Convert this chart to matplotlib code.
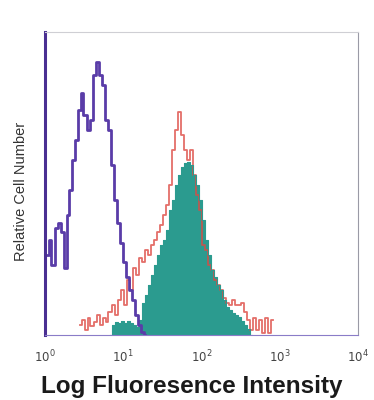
import numpy as np
import matplotlib
matplotlib.use("Agg")
import matplotlib.pyplot as plt

plt.rcParams['font.family'] = ['Liberation Sans', 'DejaVu Sans']

# log10 fluorescence channel positions and counts
iso_log = [0.01, 0.03, 0.06, 0.10, 0.15, 0.19, 0.23, 0.26, 0.29, 0.32, 0.36, 0.40,
           0.44, 0.47, 0.51, 0.55, 0.59, 0.63, 0.67, 0.71, 0.74, 0.78, 0.82,
           0.86, 0.90, 0.94, 0.97, 1.01, 1.05, 1.09, 1.13, 1.17, 1.21, 1.24, 1.28]
iso_cnt = [80, 80, 95, 70, 107, 112, 103, 67, 120, 145, 175, 195,
           225, 242, 220, 205, 215, 260, 273, 260, 250, 215, 205,
           170, 135, 112, 92, 73, 58, 45, 35, 20, 10, 3, 0]

red_log = [0.45, 0.49, 0.53, 0.56, 0.60, 0.64, 0.68, 0.72, 0.76, 0.79, 0.83, 0.87,
           0.91, 0.95, 0.99, 1.03, 1.06, 1.10, 1.14, 1.18, 1.22, 1.26, 1.29,
           1.33, 1.37, 1.41, 1.45, 1.49, 1.53, 1.56, 1.60, 1.64, 1.68, 1.72,
           1.76, 1.79, 1.83, 1.87, 1.91, 1.95, 1.99, 2.03, 2.06, 2.10, 2.14,
           2.18, 2.22, 2.26, 2.29, 2.33, 2.37, 2.41, 2.45, 2.49, 2.53, 2.56,
           2.60, 2.64, 2.68, 2.72, 2.76, 2.79, 2.83, 2.87, 2.91]
red_cnt = [10, 15, 5, 17, 9, 13, 20, 10, 17, 13, 23, 30,
           20, 35, 45, 30, 55, 45, 67, 60, 77, 73, 85,
           80, 90, 95, 103, 110, 120, 130, 150, 185, 205, 223,
           200, 185, 175, 185, 160, 140, 125, 90, 85, 70, 65,
           55, 50, 45, 37, 32, 30, 35, 30, 30, 32, 23,
           15, 5, 17, 5, 15, 2, 17, 2, 15]

teal_log = [0.83, 0.87, 0.91, 0.95, 0.99, 1.03, 1.06, 1.10, 1.14, 1.18, 1.22, 1.26,
            1.29, 1.33, 1.37, 1.41, 1.45, 1.49, 1.53, 1.56, 1.60, 1.64, 1.68,
            1.72, 1.76, 1.79, 1.83, 1.87, 1.91, 1.95, 1.99, 2.03, 2.06, 2.10,
            2.14, 2.18, 2.22, 2.26, 2.29, 2.33, 2.37, 2.41, 2.45, 2.49, 2.53,
            2.56, 2.60, 2.64]
teal_cnt = [0, 10, 13, 12, 14, 12, 14, 12, 10, 8, 15, 32,
            40, 50, 60, 70, 80, 90, 95, 105, 125, 135, 150,
            160, 168, 172, 173, 170, 160, 150, 135, 115, 95, 80,
            65, 58, 50, 45, 35, 28, 25, 22, 20, 18, 14,
            10, 6, 0]

xtick_pos = [0, 1, 2, 3, 4]
xtick_lbl = [r'$10^{0}$', r'$10^{1}$', r'$10^{2}$', r'$10^{3}$', r'$10^{4}$']

fig = plt.figure(figsize=(3.74, 4.0), dpi=100)
ax = fig.add_axes([0.1203, 0.1625, 0.837, 0.7575])

red_x = 10 ** np.array(red_log)
teal_x = 10 ** np.array(teal_log)
iso_x = 10 ** np.array(iso_log)

ax.step(red_x, red_cnt, where='mid', color='#dd4a44', lw=1.3, alpha=0.8)
ax.fill_between(teal_x, teal_cnt, step='mid', color='#2b9b8f', lw=0)
ax.step(teal_x, teal_cnt, where='mid', color='#2b9b8f', lw=0.8)
ax.step(iso_x, iso_cnt, where='mid', color='#5a3ca8', lw=2.0)

ax.set_xscale('log')
ax.set_xlim(1, 1e4)
ax.set_ylim(0, 303)
ax.set_xticks([10 ** p for p in xtick_pos])
ax.set_xticklabels(xtick_lbl, fontsize=8.5, color='#444444')
ax.xaxis.set_minor_locator(matplotlib.ticker.NullLocator())
ax.tick_params(axis='x', length=0, pad=10)
ax.set_yticks([])

ax.spines['top'].set_color('#cfcfd4')
ax.spines['right'].set_color('#9a9aa6')
ax.spines['bottom'].set_color('#8a7cc8')
ax.spines['left'].set_color('#4a2f92')
ax.spines['left'].set_linewidth(2.2)

fig.text(21 / 374, 1 - 191 / 400, 'Relative Cell Number', rotation=90,
         fontsize=10.5, color='#333333', ha='center', va='center')
fig.text(192 / 374, 1 - 387 / 400, 'Log Fluoresence Intensity', fontsize=17.5,
         fontweight='bold', color='#1a1a1a', ha='center', va='center')

fig.savefig('out.png', dpi=100)
